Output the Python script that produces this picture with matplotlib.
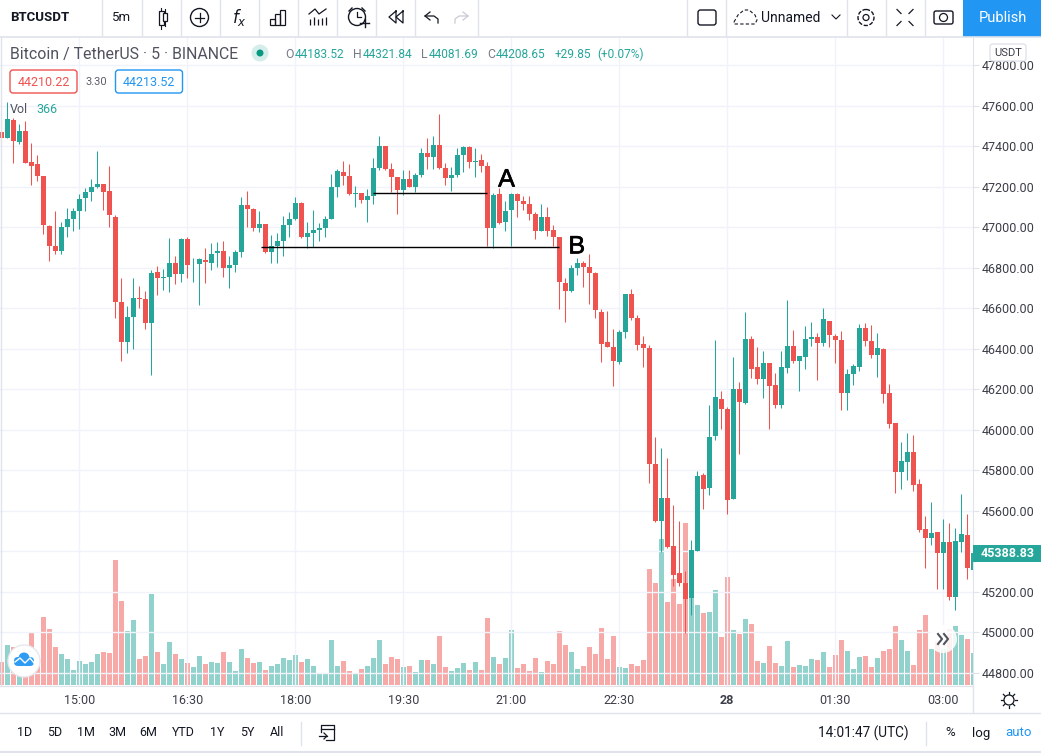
import numpy as np
import matplotlib.pyplot as plt
import matplotlib.patheffects as pe
from matplotlib.patches import Rectangle, Circle, FancyBboxPatch

plt.rcParams['font.family'] = ['Roboto', 'DejaVu Sans']

# Velas de 5 min
opens = [47468, 47439, 47528, 47419, 47472, 47319, 47309, 47254, 47007, 46909,
         46881, 46999, 47039, 47078, 47142, 47172, 47197, 47215, 47180, 47052,
         46632, 46431, 46555, 46652, 46647, 46525, 46780, 46751, 46752, 46825,
         46767, 46943, 46812, 46817, 46840, 46821, 46871, 46884, 46797, 46812,
         46876, 47111, 47091, 46994, 47017, 46876, 46905, 46930, 47009, 47039,
         47121, 46950, 46970, 46984, 46994, 47039, 47197, 47274, 47254, 47162,
         47170, 47133, 47152, 47291, 47398, 47289, 47249, 47182, 47239, 47197,
         47256, 47368, 47345, 47407, 47294, 47241, 47256, 47355, 47393, 47320,
         47333, 47304, 46994, 47165, 47024, 47083, 47165, 47131, 47116, 47067,
         46979, 47052, 46988, 46953, 46726, 46683, 46797, 46825, 46805, 46775,
         46583, 46435, 46410, 46333, 46481, 46672, 46553, 46425, 46405, 45832,
         45548, 45665, 45427, 45294, 45245, 45172, 45404, 45778, 45714, 45967,
         46153, 46104, 45660, 46203, 46134, 46450, 46311, 46249, 46331, 46222,
         46124, 46306, 46415, 46341, 46361, 46446, 46460, 46427, 46539, 46464,
         46445, 46183, 46277, 46311, 46504, 46440, 46371, 46400, 46183, 46035,
         45793, 45842, 45892, 45734, 45511, 45467, 45497, 45393, 45447, 45176,
         45447, 45482, 45309]
highs = [47523, 47616, 47539, 47511, 47526, 47416, 47358, 47254, 47012, 47081,
         47027, 47096, 47096, 47165, 47195, 47235, 47378, 47215, 47304, 47060,
         46751, 46612, 46751, 46711, 46686, 46790, 46810, 46795, 46948, 46859,
         46948, 46953, 46849, 46849, 46899, 46923, 46928, 46933, 46859, 46889,
         47151, 47180, 47096, 47081, 47017, 46963, 46973, 47057, 47077, 47151,
         47126, 47027, 47086, 47022, 47057, 47264, 47289, 47328, 47309, 47205,
         47170, 47190, 47343, 47452, 47398, 47318, 47249, 47284, 47284, 47269,
         47388, 47442, 47452, 47556, 47318, 47299, 47388, 47402, 47402, 47388,
         47363, 47323, 47170, 47195, 47131, 47170, 47170, 47156, 47156, 47077,
         47116, 47101, 47012, 46953, 46751, 46815, 46849, 46835, 46869, 46780,
         46598, 46588, 46499, 46494, 46672, 46696, 46568, 46464, 46418, 45966,
         45911, 45862, 45630, 45551, 45304, 45457, 45798, 45788, 46124, 46445,
         46193, 46114, 46361, 46237, 46583, 46464, 46410, 46390, 46331, 46282,
         46390, 46642, 46494, 46366, 46514, 46534, 46479, 46603, 46539, 46474,
         46489, 46301, 46326, 46524, 46529, 46519, 46479, 46405, 46227, 46035,
         45941, 45985, 45976, 45758, 45576, 45645, 45497, 45561, 45541, 45516,
         45684, 45585, 45400]
lows = [47416, 47439, 47317, 47412, 47314, 47207, 47226, 46965, 46831, 46866,
        46868, 46950, 46979, 46989, 47078, 47128, 47192, 47083, 46999, 46550,
        46338, 46377, 46397, 46599, 46496, 46268, 46663, 46688, 46678, 46718,
        46728, 46747, 46728, 46614, 46723, 46787, 46802, 46756, 46698, 46777,
        46851, 46999, 46979, 46974, 46871, 46821, 46821, 46856, 46950, 47035,
        46945, 46897, 46902, 46930, 46950, 47039, 47147, 47207, 47157, 47098,
        47118, 47024, 47113, 47281, 47282, 47172, 47063, 47157, 47197, 47172,
        47249, 47286, 47289, 47286, 47207, 47177, 47246, 47271, 47291, 47246,
        47271, 46905, 46895, 47017, 46979, 46905, 47049, 47083, 47034, 46940,
        46979, 46955, 46905, 46594, 46530, 46678, 46762, 46703, 46619, 46550,
        46333, 46407, 46214, 46323, 46451, 46540, 46392, 46308, 45740, 45543,
        45399, 45419, 45227, 45227, 44999, 45087, 45404, 45610, 45679, 45948,
        46005, 45585, 45660, 45882, 46129, 46257, 46227, 46158, 46005, 46109,
        46109, 46282, 46331, 46193, 46301, 46415, 46247, 46415, 46410, 46331,
        46099, 46099, 46222, 46292, 46415, 46356, 46262, 46134, 46010, 45689,
        45709, 45753, 45699, 45497, 45319, 45432, 45215, 45215, 45161, 45111,
        45398, 45265, 45280]
closes = [47439, 47531, 47424, 47472, 47315, 47300, 47251, 47009, 46905, 46881,
          47002, 47042, 47081, 47141, 47175, 47200, 47215, 47172, 47058, 46629,
          46431, 46558, 46652, 46644, 46525, 46775, 46747, 46756, 46825, 46767,
          46943, 46812, 46815, 46844, 46826, 46869, 46884, 46797, 46815, 46879,
          47111, 47088, 46994, 47017, 46876, 46909, 46933, 47012, 47042, 47121,
          46950, 46973, 46988, 46998, 47042, 47200, 47279, 47251, 47162, 47170,
          47133, 47156, 47294, 47398, 47286, 47246, 47182, 47239, 47197, 47259,
          47368, 47345, 47407, 47291, 47241, 47259, 47358, 47393, 47320, 47328,
          47300, 46994, 47160, 47022, 47081, 47165, 47128, 47113, 47063, 46979,
          47052, 46979, 46950, 46728, 46683, 46800, 46825, 46802, 46772, 46589,
          46421, 46407, 46338, 46484, 46672, 46550, 46417, 46402, 45829, 45548,
          45665, 45424, 45286, 45242, 45167, 45408, 45773, 45709, 45966, 46163,
          46104, 45655, 46203, 46139, 46450, 46298, 46252, 46331, 46218, 46124,
          46311, 46415, 46341, 46366, 46450, 46460, 46427, 46548, 46466, 46445,
          46183, 46277, 46316, 46504, 46440, 46371, 46405, 46178, 46030, 45793,
          45847, 45892, 45729, 45506, 45467, 45492, 45393, 45447, 45176, 45452,
          45487, 45319, 45391]
volumes = [69, 120, 114, 75, 75, 159, 75, 204, 168, 114,
           93, 78, 45, 72, 63, 69, 93, 99, 96, 375,
           252, 162, 195, 78, 87, 273, 99, 63, 129, 93,
           78, 66, 54, 87, 63, 69, 66, 99, 69, 42,
           108, 81, 66, 69, 45, 57, 63, 81, 75, 90,
           69, 78, 57, 33, 36, 135, 57, 72, 42, 36,
           48, 57, 81, 135, 63, 84, 78, 54, 57, 39,
           75, 75, 63, 147, 54, 42, 51, 66, 45, 69,
           45, 201, 84, 63, 81, 165, 51, 63, 42, 81,
           39, 72, 63, 162, 120, 99, 48, 57, 114, 93,
           171, 78, 147, 54, 51, 63, 57, 75, 348, 306,
           438, 249, 318, 243, 486, 261, 240, 216, 219, 285,
           144, 324, 165, 153, 198, 183, 72, 66, 117, 66,
           57, 132, 54, 60, 57, 78, 75, 99, 54, 90,
           135, 102, 48, 84, 87, 54, 81, 102, 108, 177,
           135, 102, 60, 165, 210, 108, 132, 108, 168, 177,
           150, 138, 96]
price_ticks = [44800, 45000, 45200, 45400, 45600, 45800, 46000, 46200,
               46400, 46600, 46800, 47000, 47200, 47400, 47600, 47800]
time_ticks = [13, 31, 49, 67, 85, 103, 121, 139, 157]
time_labels = ['15:00', '16:30', '18:00', '19:30', '21:00', '22:30', '28', '01:30', '03:00']
ranges = ['1D', '5D', '1M', '3M', '6M', 'YTD', '1Y', '5Y', 'All']

green = '#26a69a'
red = '#ef5350'
line = '#e0e3eb'
ink = '#131722'
xs = np.arange(len(opens))
opens = np.array(opens)
closes = np.array(closes)
up = closes >= opens
cols = np.where(up, green, red)
rect = [0, 67/753, 973/1041, 649/753]

plt.figure(figsize=(10.41, 7.53), dpi=100)

# Volume por baixo
plt.axes(rect)
plt.bar(xs, volumes, width=0.83, color=np.where(up, '#92d2cc', '#f7a9a7'))
plt.xlim(-0.217, 161.95)
plt.ylim(-3, 1944)
plt.axis('off')

# Velas
ax = plt.axes(rect)
ax.patch.set_alpha(0)
plt.grid(True, color='#f0f3fa', lw=1)
ax.set_axisbelow(True)
plt.vlines(xs, lows, highs, color=cols, lw=0.75)
plt.bar(xs, np.abs(closes-opens), bottom=np.minimum(opens, closes), width=0.85, color=cols)
plt.hlines([47168, 46901], [62, 43.3], [81, 93], color='black', lw=1)
halo = [pe.withStroke(linewidth=0.5, foreground='black')]
plt.text(84.2, 47235, 'A', family='Liberation Sans', fontsize=18, ha='center', va='center', color='black', path_effects=halo)
plt.text(95.9, 46905, 'B', family='Liberation Sans', fontsize=18, ha='center', va='center', color='black', path_effects=halo)
plt.xlim(-0.217, 161.95)
plt.ylim(44736, 47938)
plt.xticks(time_ticks, time_labels, fontsize=9, color='#3b3e48')
ax.get_xticklabels()[6].set_fontweight('bold')
plt.yticks(price_ticks, ['' if p == 45400 else '%.2f' % p for p in price_ticks], fontsize=9, color='#3b3e48')
ax.yaxis.tick_right()
plt.tick_params(axis='y', length=4, color=line, pad=2)
plt.tick_params(axis='x', length=0, pad=6)
for s in ['top', 'left']:
    ax.spines[s].set_visible(False)
ax.spines['right'].set_color(line)
ax.spines['bottom'].set_color(line)

# Barras de ferramentas, em pixels
ov = plt.axes([0, 0, 1, 1], zorder=5)
ov.patch.set_alpha(0)
plt.xlim(0, 1041)
plt.ylim(753, 0)
plt.axis('off')
plt.plot([0, 1041], [36.5, 36.5], color=line, lw=1.2)
plt.plot([0, 1041], [713, 713], color=line, lw=1)
plt.plot([0, 1041], [751.5, 751.5], color=line, lw=1.5)
plt.plot([0.5, 0.5], [37, 686], color=line, lw=1)
plt.plot([973, 973], [686, 713], color=line, lw=1)
for x in [101.5, 141.5, 180.5, 219.5, 258.5, 297.5, 336.5, 375.5, 414.5, 477.5, 686.5, 725.5, 846.5, 885.5, 924.5]:
    plt.plot([x, x], [0, 36], color=line, lw=1)
plt.plot([301, 301], [722, 745], color=line, lw=1)
plt.plot([926, 926], [722, 745], color=line, lw=1)
ov.add_patch(Rectangle((963, 0), 78, 36.5, color='#2196f3', lw=0))
plt.text(1003, 18, 'Publish', color='white', fontsize=10.5, ha='center', va='center')
plt.text(10, 17.5, 'BTCUSDT', color=ink, fontsize=9.5, weight='bold', va='center')
plt.text(122, 17.5, '5m', color=ink, fontsize=9.5, ha='center', va='center')

# Icones
plt.plot([161, 161], [8, 29], color=ink, lw=0.8)
plt.plot([165, 165], [9, 26], color=ink, lw=0.8)
ov.add_patch(Rectangle((158.5, 11), 5, 14, fc='white', ec=ink, lw=0.9, zorder=3))
ov.add_patch(Rectangle((163, 13), 4, 8, fc='white', ec=ink, lw=0.9, zorder=3))
ov.add_patch(Circle((199.5, 17.5), 9, fc='none', ec=ink, lw=1))
plt.plot([195, 204], [17.5, 17.5], color=ink, lw=0.9)
plt.plot([199.5, 199.5], [13, 22], color=ink, lw=0.9)
plt.text(239, 17, r'$f_x$', color=ink, fontsize=12, ha='center', va='center')
ov.add_patch(Rectangle((270, 19), 5, 6, fc='none', ec=ink, lw=0.9))
ov.add_patch(Rectangle((275, 14), 5, 11, fc='none', ec=ink, lw=0.9))
ov.add_patch(Rectangle((280, 10), 5, 15, fc='none', ec=ink, lw=0.9))
plt.plot([309, 315, 319, 326], [14, 9, 14, 9], color=ink, lw=0.9)
plt.vlines([310, 314, 318, 322, 326], [19, 17, 19, 18, 17], 25, color=ink, lw=0.9)
ov.add_patch(Circle((357, 17), 8.5, fc='none', ec=ink, lw=1))
plt.plot([357, 357, 361], [12, 17, 17], color=ink, lw=0.9)
plt.plot([349, 352], [11, 8], color=ink, lw=1)
plt.plot([362, 365], [8, 11], color=ink, lw=1)
plt.plot([360, 369], [23, 23], color=ink, lw=1, zorder=3)
plt.plot([364.5, 364.5], [19, 27], color=ink, lw=1, zorder=3)
plt.plot([396, 389, 396, 396], [11, 17, 23, 11], color=ink, lw=0.9)
plt.plot([403, 396, 403, 403], [11, 17, 23, 11], color=ink, lw=0.9)
plt.plot([430, 425, 430], [12, 16, 20], color=ink, lw=0.9)
plt.plot([425, 434, 438, 438], [16, 16, 19, 23], color=ink, lw=0.9)
plt.plot([463, 468, 463], [12, 16, 20], color='#c8cbd3', lw=0.9)
plt.plot([468, 459, 455, 455], [16, 16, 19, 23], color='#c8cbd3', lw=0.9)
ov.add_patch(FancyBboxPatch((698, 10), 18, 15, boxstyle='round,pad=0,rounding_size=2.5', fc='none', ec=ink, lw=1))
plt.plot([734, 738, 744, 749, 755, 757, 755, 734, 734], [22, 15, 10, 10, 15, 20, 24, 24, 22], color=ink, lw=0.8, ls=(0, (3, 2)))
plt.text(761, 17.5, 'Unnamed', color=ink, fontsize=10, va='center')
plt.plot([832, 836, 840], [15, 19, 15], color=ink, lw=0.8)
ov.add_patch(Circle((866, 17.5), 3, fc='none', ec=ink, lw=0.9))
ov.add_patch(Circle((866, 17.5), 8, fc='none', ec=ink, lw=1, ls=(0, (3, 1.2))))
for dx, dy in [(-1, -1), (1, -1), (-1, 1), (1, 1)]:
    plt.plot([905+8*dx, 905+4*dx], [17.5+8*dy, 17.5+4*dy], color=ink, lw=0.9)
ov.add_patch(FancyBboxPatch((934, 11), 19, 13, boxstyle='round,pad=0,rounding_size=2', fc='none', ec=ink, lw=1))
ov.add_patch(Circle((943.5, 17.5), 4, fc='none', ec=ink, lw=0.9))

# Legenda
plt.text(10, 54, 'Bitcoin / TetherUS · 5 · BINANCE', color='#50535e', fontsize=11.4, va='center')
ov.add_patch(Circle((260, 53), 8.5, color='#d6eeeb', lw=0))
ov.add_patch(Circle((260, 53), 3.5, color='#089981', lw=0))
for x, s in [(285, 'O'), (353, 'H'), (421, 'L'), (487, 'C')]:
    plt.text(x, 54, s, color='#787b86', fontsize=8.8, va='center')
for x, s in [(295, '44183.52'), (363, '44321.84'), (429, '44081.69'), (496, '44208.65'), (555, '+29.85'), (597, '(+0.07%)')]:
    plt.text(x, 54, s, color=green, fontsize=8.6, va='center')
ov.add_patch(FancyBboxPatch((10, 70), 67, 23, boxstyle='round,pad=0,rounding_size=3', fc='white', ec=red, lw=1))
ov.add_patch(FancyBboxPatch((115.5, 70), 67, 23, boxstyle='round,pad=0,rounding_size=3', fc='white', ec='#2196f3', lw=1))
plt.text(43.5, 82, '44210.22', color=red, fontsize=9, ha='center', va='center')
plt.text(96, 82, '3.30', color='#5d606b', fontsize=8, ha='center', va='center')
plt.text(149, 82, '44213.52', color='#2196f3', fontsize=9, ha='center', va='center')
plt.text(10, 109, 'Vol', color='#50535e', fontsize=9, va='center')
plt.text(36, 109, '366', color=green, fontsize=9, va='center')

# Escala de precos
ov.add_patch(FancyBboxPatch((990, 44), 36, 17, boxstyle='round,pad=0,rounding_size=3', fc='white', ec=line, lw=1, zorder=4))
plt.text(1008, 52.5, 'USDT', color='#3b3e48', fontsize=8, ha='center', va='center', zorder=5)
ov.add_patch(Rectangle((973, 545), 68, 17, color=green, lw=0))
plt.text(1008, 553.5, '45388.83', color='white', fontsize=9, weight='bold', ha='center', va='center')

# Botoes sobre o grafico
ov.add_patch(Circle((24, 661), 16, fc='white', ec='#e6e8ee', lw=1))
ov.add_patch(FancyBboxPatch((14, 657), 20, 9, boxstyle='round,pad=0,rounding_size=4', color='#2e9cf2', lw=0))
ov.add_patch(Circle((24, 658), 5.5, color='#2e9cf2', lw=0))
plt.plot([15, 20, 25, 30, 34], [662, 658, 663, 658, 663], color='white', lw=1)
ov.add_patch(Circle((943, 639), 14, fc='white', ec='none', alpha=0.85))
plt.plot([938, 942, 938], [634, 639, 644], color='#50535e', lw=1.5)
plt.plot([944, 948, 944], [634, 639, 644], color='#50535e', lw=1.5)
ov.add_patch(Circle((1009, 700), 5, fc='none', ec=ink, lw=0.9))
for a in np.arange(0, 2*np.pi, np.pi/4):
    plt.plot([1009+6*np.cos(a), 1009+8*np.cos(a)], [700+6*np.sin(a), 700+8*np.sin(a)], color=ink, lw=0.9)

# Barra inferior
for x, s in zip([25, 55, 86, 117, 148, 183, 217, 247, 277], ranges):
    plt.text(x, 733, s, color=ink, fontsize=9, ha='center', va='center')
plt.plot([321, 321, 334, 334, 326], [732, 725, 725, 740, 740], color=ink, lw=0.9)
plt.plot([321, 334], [729, 729], color=ink, lw=0.9)
plt.plot([319, 327], [736, 736], color=ink, lw=0.9)
plt.plot([324, 327, 324], [733, 736, 739], color=ink, lw=0.9)
plt.text(863, 733, '14:01:47 (UTC)', color=ink, fontsize=9.8, ha='center', va='center')
plt.text(950, 733, '%', color=ink, fontsize=9.5, ha='center', va='center')
plt.text(981, 733, 'log', color=ink, fontsize=9.5, ha='center', va='center')
plt.text(1018, 733, 'auto', color='#2196f3', fontsize=9.5, ha='center', va='center')

plt.savefig('out.png', dpi=100)
